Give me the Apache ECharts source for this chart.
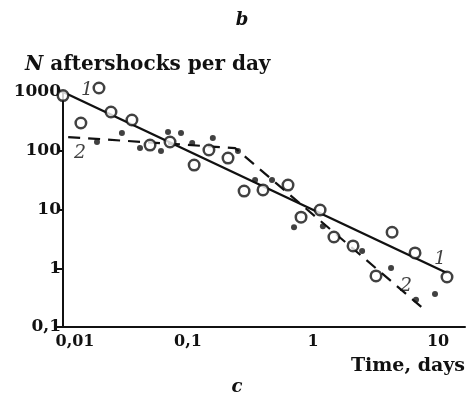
<!DOCTYPE html>
<html>
<head>
<meta charset="utf-8">
<script src="https://cdn.jsdelivr.net/npm/echarts@6/dist/echarts.min.js"></script>
<style>
  html, body { margin: 0; padding: 0; background: #fff; }
  #chart { width: 466px; height: 403px; }
</style>
</head>
<body>
<div id="chart"></div>
<script>
// Aftershock rate (events per day) versus time since the main shock, log-log.

// Sequence 1: open circles
const seqOneTimes  = [0.01, 0.0194, 0.0139, 0.0242, 0.0356, 0.0497, 0.0718, 0.112, 0.147, 0.209,
                      0.281, 0.398, 0.631, 0.802, 1.14, 1.47, 2.09, 3.19, 4.29, 6.55, 11.8];
const seqOneCounts = [870, 1170, 297, 457, 334, 125, 141, 57, 103, 75,
                      20.6, 21.5, 26, 7.4, 9.8, 3.4, 2.4, 0.74, 4.1, 1.82, 0.71];

// Sequence 2: filled dots
const seqTwoTimes  = [0.0187, 0.0296, 0.0413, 0.0608, 0.0692, 0.0879, 0.108, 0.158, 0.251,
                      0.344, 0.47, 0.705, 1.2, 2.47, 4.21, 6.67, 9.46];
const seqTwoCounts = [141, 200, 111, 99, 208, 200, 135, 165, 99,
                      31.8, 31.8, 5.0, 5.2, 1.97, 1.01, 0.29, 0.365];

// Fitted trends: 1 = straight power law, 2 = flat then steep decay
const fitOneTimes  = [0.01, 11.8];
const fitOneCounts = [1000, 0.83];
const fitTwoTimes  = [0.011, 0.238, 8.2];
const fitTwoCounts = [171, 111, 0.18];

// Curve tags
const tagTexts  = ['1', '1', '2', '2'];
const tagTimes  = [0.0156, 10.4, 0.0137, 5.55];
const tagCounts = [1080, 1.44, 91.6, 0.5];

// Axis ticks
const xTickValues = [0.01, 0.1, 1, 10];
const xTickLabels = ['0,01', '0,1', '1', '10'];
const yTickValues = [0.1, 1, 10, 100, 1000];
const yTickLabels = ['0,1', '1', '10', '100', '1000'];
const xMax = 16.44;

const zip = (xs, ys) => xs.map((x, i) => [x, ys[i]]);
const tickIndex = (values, v) => values.findIndex(t => Math.abs(Math.log10(v) - Math.log10(t)) < 1e-6);

const INK = '#111';
const SERIF = '"DejaVu Serif", "Liberation Serif", serif';

const chart = echarts.init(document.getElementById('chart'), null, { renderer: 'canvas' });

chart.setOption({
  animation: false,
  backgroundColor: '#fff',
  grid: { left: 63, right: 1, top: 92, bottom: 76 },
  xAxis: {
    type: 'log',
    logBase: 10,
    min: xTickValues[0],
    max: xMax,
    axisLine: { show: true, onZero: false, lineStyle: { color: INK, width: 2 } },
    axisTick: { show: false },
    splitLine: { show: false },
    minorTick: { show: false },
    axisLabel: {
      margin: 7,
      color: INK,
      fontFamily: SERIF,
      fontWeight: 'bold',
      fontSize: 16,
      showMaxLabel: false,
      formatter: v => {
        const i = tickIndex(xTickValues, v);
        if (i < 0) return '';
        return i === 0 ? '{first|' + xTickLabels[i] + '}' : xTickLabels[i];
      },
      rich: {
        first: { padding: [0, 0, 0, 24], fontFamily: SERIF, fontWeight: 'bold', fontSize: 16, color: INK }
      }
    }
  },
  yAxis: {
    type: 'log',
    logBase: 10,
    min: yTickValues[0],
    max: yTickValues[yTickValues.length - 1],
    axisLine: { show: true, onZero: false, lineStyle: { color: INK, width: 2 } },
    axisTick: { show: true, length: 6, lineStyle: { color: INK, width: 2 } },
    splitLine: { show: false },
    axisLabel: {
      margin: 2,
      color: INK,
      fontFamily: SERIF,
      fontWeight: 'bold',
      fontSize: 17,
      formatter: v => {
        const i = tickIndex(yTickValues, v);
        return i < 0 ? '' : yTickLabels[i];
      }
    }
  },
  series: [
    {
      name: 'trend 1',
      type: 'line',
      data: zip(fitOneTimes, fitOneCounts),
      symbol: 'none',
      lineStyle: { color: INK, width: 2.4 },
      z: 2
    },
    {
      name: 'trend 2',
      type: 'line',
      data: zip(fitTwoTimes, fitTwoCounts),
      symbol: 'none',
      lineStyle: { color: INK, width: 2.2, type: [12, 8] },
      z: 2
    },
    {
      name: 'sequence 1',
      type: 'scatter',
      data: zip(seqOneTimes, seqOneCounts),
      symbol: 'circle',
      symbolSize: 10.5,
      clip: false,
      itemStyle: { color: '#fff', borderColor: INK, borderWidth: 2.5 },
      z: 3
    },
    {
      name: 'sequence 2',
      type: 'scatter',
      data: zip(seqTwoTimes, seqTwoCounts),
      symbol: 'circle',
      symbolSize: 6,
      clip: false,
      itemStyle: { color: INK },
      z: 4
    },
    {
      name: 'tags',
      type: 'scatter',
      data: tagTimes.map((t, i) => [t, tagCounts[i], tagTexts[i]]),
      symbolSize: 0,
      clip: false,
      silent: true,
      label: {
        show: true,
        position: 'inside',
        formatter: p => p.data[2],
        fontFamily: SERIF,
        fontStyle: 'italic',
        fontSize: 19,
        color: INK
      },
      z: 5
    }
  ],
  graphic: [
    {
      type: 'text', x: 242, y: 20,
      style: { text: 'b', font: 'italic bold 18px ' + SERIF, fill: INK, align: 'center', verticalAlign: 'middle' }
    },
    {
      type: 'text', x: 25, y: 65,
      style: {
        text: '{n|N} aftershocks per day',
        font: 'bold 20px ' + SERIF,
        fill: INK, align: 'left', verticalAlign: 'middle',
        rich: { n: { fontStyle: 'italic', fontWeight: 'bold', fontSize: 20, fontFamily: SERIF, fill: INK } }
      }
    },
    {
      type: 'text', x: 465, y: 366,
      style: { text: 'Time, days', font: 'bold 19px ' + SERIF, fill: INK, align: 'right', verticalAlign: 'middle' }
    },
    {
      type: 'text', x: 237, y: 387,
      style: { text: 'c', font: 'italic bold 18px ' + SERIF, fill: INK, align: 'center', verticalAlign: 'middle' }
    }
  ]
});
</script>
</body>
</html>
